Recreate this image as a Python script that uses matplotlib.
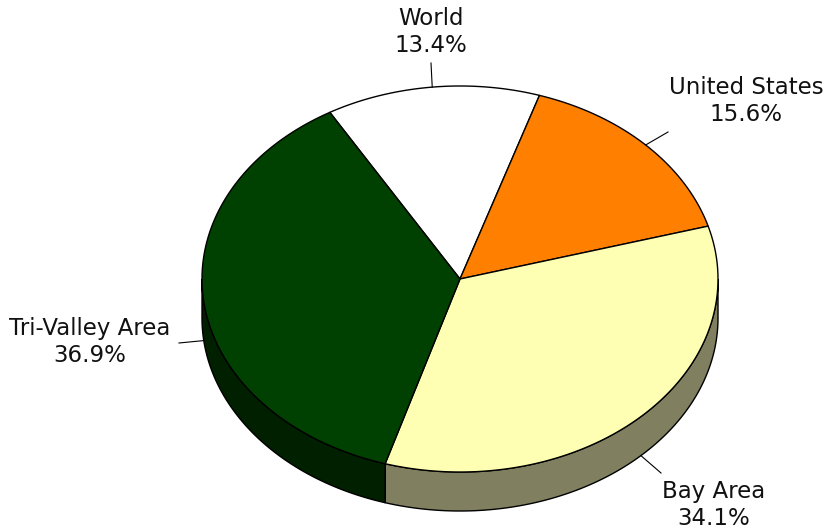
import numpy as np
import matplotlib.pyplot as plt
from matplotlib.patches import Polygon

labels = ['World', 'United States', 'Bay Area', 'Tri-Valley Area']
shares = [13.4, 15.6, 34.1, 36.9]

top_colors = ['#FFFFFF', '#FF8000', '#FFFFB3', '#004000']
side_colors = ['#808080', '#804000', '#808060', '#002000']

# pie geometry in pixel coordinates (y grows downward)
cx, cy = 460.0, 279.0
rx, ry = 258.0, 193.0
depth = 39.0
start_angle = 120.3

# text centres and outer ends of the leader lines
text_pos = [(431, 32), (746, 101), (714, 505), (90, 342)]
leader_end = [(431, 63), (668, 132), (661, 473), (179, 343)]


def rim(t_deg, drop=0.0):
    t = np.radians(t_deg)
    return np.column_stack([cx + rx * np.cos(t), cy - ry * np.sin(t) + drop])


fig = plt.figure(figsize=(8.26, 5.31), dpi=100)
ax = fig.add_axes([0, 0, 1, 1])
ax.set_xlim(0, 826)
ax.set_ylim(531, 0)
ax.axis('off')

bounds = []
a0 = start_angle
for s in shares:
    a1 = a0 - 360.0 * s / sum(shares)
    bounds.append((a1, a0))
    a0 = a1

# side walls: only the front half of the rim is visible
for (lo, hi), col in zip(bounds, side_colors):
    for shift in (0.0, -360.0, 360.0):
        l, h = max(lo + shift, -180.0), min(hi + shift, 0.0)
        if h <= l:
            continue
        ts = np.linspace(l, h, 200)
        pts = np.vstack([rim(ts), rim(ts[::-1], depth)])
        ax.add_patch(Polygon(pts, closed=True, facecolor=col,
                             edgecolor='black', lw=1.0, zorder=1))

# top faces
for (lo, hi), col in zip(bounds, top_colors):
    ts = np.linspace(lo, hi, 300)
    pts = np.vstack([[cx, cy], rim(ts)])
    ax.add_patch(Polygon(pts, closed=True, facecolor=col,
                         edgecolor='black', lw=1.0, joinstyle='round', zorder=2))

for (lo, hi), name, s, tp, le in zip(bounds, labels, shares, text_pos, leader_end):
    mid = (lo + hi) / 2.0
    if mid < -180:
        mid += 360
    front = np.sin(np.radians(mid)) < 0
    x0, y0 = rim([mid], depth if front else 0.0)[0]
    ax.plot([le[0], x0], [le[1], y0], color='black', lw=0.8, zorder=3)
    ax.text(tp[0], tp[1], f'{name}\n{s:.1f}%', ha='center', va='center',
            multialignment='center', fontsize=16.5, color='#111111',
            family='DejaVu Sans', zorder=4)

fig.savefig('out.png', dpi=100)
